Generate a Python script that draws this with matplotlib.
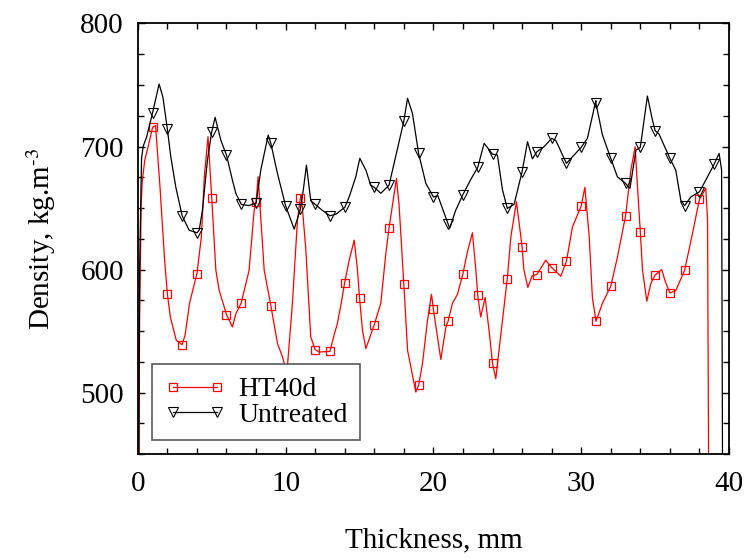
import numpy as np
import matplotlib
matplotlib.use("Agg")
import matplotlib.pyplot as plt
from matplotlib.ticker import MultipleLocator

plt.rcParams['font.family'] = ['Liberation Serif', 'DejaVu Serif']
plt.rcParams['mathtext.fontset'] = 'stix'

# HT40d density profile (thickness mm, density kg/m3)
ht_x = [0.02, 0.12, 0.23, 0.3, 0.47, 0.7, 1.0, 1.2, 1.5, 1.8, 2.0, 2.2, 2.6, 3.0, 3.2, 3.5,
        4.0, 4.3, 4.5, 4.75, 5.0, 5.28, 5.5, 6.0, 6.4, 6.63, 7.0, 7.53, 7.87, 8.0, 8.14,
        8.55, 9.0, 9.45, 9.79, 10.0, 10.1, 10.46, 10.8, 11.0, 11.06, 11.37, 11.7, 12.0,
        12.27, 13.0, 13.28, 13.5, 13.75, 14.0, 14.3, 14.64, 14.86, 15.0, 15.2, 15.43, 16.0,
        16.44, 16.78, 17.0, 17.5, 17.68, 18.0, 18.25, 18.81, 19.0, 19.26, 19.6, 19.87, 20.0,
        20.28, 20.5, 20.84, 21.0, 21.29, 21.63, 22.0, 22.3, 22.64, 22.87, 23.0, 23.2, 23.5,
        23.77, 24.0, 24.22, 24.56, 25.0, 25.24, 25.62, 26.0, 26.12, 26.39, 26.68, 27.0,
        27.6, 28.0, 28.62, 29.0, 29.41, 30.0, 30.25, 30.54, 30.76, 31.0, 31.44, 32.0,
        32.45, 33.0, 33.36, 33.65, 33.82, 34.0, 34.15, 34.44, 34.71, 35.0, 35.45, 35.7,
        36.0, 36.4, 37.0, 37.53, 38.0, 38.43, 38.55, 38.67]
ht_y = [300, 560, 654, 672, 689, 700, 715.6, 717, 667, 610, 580, 561.5, 542.6, 539, 547, 572.7,
        596.8, 626.6, 675.4, 708, 658.3, 599.5, 583.3, 563.5, 553.4, 564, 573, 599.5, 648,
        654.6, 675.4, 599.5, 570.8, 540, 529, 520, 518, 572.7, 640, 658.3, 661, 615.8,
        545.3, 535, 533, 533.6, 547, 556, 572, 589.5, 607.6, 623.9, 600, 577.3, 550.7,
        535.8, 555.3, 572.7, 613, 634, 674, 652, 588, 534.5, 500.5, 506, 523.6, 558.8, 580,
        567.6, 545, 527, 553, 558.3, 572.7, 580, 596.8, 614.4, 629.9, 600, 579, 561.5, 577.3,
        550, 524, 511.4, 547, 592.7, 626.6, 655.1, 618.5, 600, 585.5, 595, 596,
        607.6, 601.7, 594.6, 606.8, 634.7, 651.6, 666.8, 627, 577, 558, 572.7, 586.5,
        610, 643.4, 680.8, 699.8, 665, 630.7, 599.5, 574.3, 588.7, 595.5, 600, 590,
        581, 583, 599.5, 629.4, 657, 666, 640, 300]

# Untreated density profile
un_x = [0.02, 0.12, 0.25, 0.36, 0.6, 1.0, 1.44, 1.7, 2.0, 2.23, 2.57, 3.0, 3.47, 4.0, 4.15,
        4.37, 4.71, 5.0, 5.23, 5.62, 6.0, 6.4, 6.63, 7.0, 7.5, 8.0, 8.32, 8.82, 9.0, 9.45,
        10.0, 10.58, 11.0, 11.2, 11.41, 11.7, 12.0, 12.5, 13.0, 13.4, 14.0, 14.3, 14.75,
        15.02, 15.43, 15.76, 16.0, 16.44, 17.0, 17.34, 18.0, 18.25, 18.58, 19.0, 19.49,
        20.0, 20.3, 21.0, 21.1, 21.5, 22.0, 22.53, 23.0, 23.43, 24.0, 24.33, 24.67, 25.0,
        25.46, 26.0, 26.37, 26.7, 27.0, 27.5, 28.0, 28.28, 29.0, 29.41, 30.0, 30.42,
        30.99, 31.0, 31.44, 32.0, 32.45, 33.0, 33.3, 33.7, 34.0, 34.48, 34.82, 35.0, 35.27,
        36.0, 36.4, 36.74, 37.0, 37.42, 38.0, 38.43, 39.0, 39.33, 39.5, 39.6]
un_y = [300, 600, 690, 700, 708, 727.5, 750.8, 740, 714, 691.7, 667, 643.7, 632, 629.9, 632,
        648, 689, 712, 723.7, 705, 693, 672.7, 662, 653, 652, 654, 680.8, 709.3, 702.6, 678,
        651.8, 632.9, 649, 665, 684.9, 656, 653, 648, 643.7, 645, 650.5, 659, 675.4,
        690.4, 680.8, 668.6, 666.8, 662, 668.6, 686.3, 720.7, 739.2, 727, 694.4, 670,
        659, 660, 636.9, 633.5, 648, 661, 673.3, 683, 702.6, 693.8, 693.1, 665, 649.7,
        653, 679.5, 703.9, 690, 695.7, 700, 706.6, 705, 686.3, 691.7, 699.3, 706.6,
        737.2, 735, 709.3, 690.4, 675.4, 670, 666, 697, 699.3, 741, 721.5, 713, 710,
        690.4, 680.8, 656.4, 652, 659, 663.2, 672.7, 685.7, 694.4, 681, 300]

x_ht = np.array(ht_x)
x_un = np.array(un_x)
mk_ht = [i for i, v in enumerate(x_ht) if v >= 1 and abs(v - round(v)) < 1e-9]
mk_un = [i for i, v in enumerate(x_un) if v >= 1 and abs(v - round(v)) < 1e-9]

fig = plt.figure(figsize=(7.45, 5.58), dpi=100)
ax = fig.add_axes([0.185, 0.186, 0.7935, 0.772])

ax.plot(x_ht, ht_y, color='red', lw=0.9, marker='s', markevery=mk_ht, ms=6,
        mfc='none', mec='red', mew=0.9, label='HT40d')
ax.plot(x_un, un_y, color='black', lw=0.9, marker='v', markevery=mk_un, ms=6.5,
        mfc='none', mec='black', mew=0.8, label='Untreated')

ax.set_xlim(0, 40)
ax.set_ylim(450, 800)
ax.xaxis.set_major_locator(MultipleLocator(10))
ax.xaxis.set_minor_locator(MultipleLocator(2))
ax.yaxis.set_major_locator(MultipleLocator(100))
ax.yaxis.set_minor_locator(MultipleLocator(25))
ax.tick_params(which='both', direction='in', top=True, right=True, labelsize=21)
ax.tick_params(which='major', length=5, width=1)
ax.tick_params(which='minor', length=4, width=1)
ax.tick_params(axis='x', which='major', pad=12)
ax.tick_params(axis='y', which='major', pad=10)
for s in ax.spines.values():
    s.set_linewidth(1.3)

ax.set_xlabel('Thickness, mm', fontsize=21, labelpad=22)
ax.set_ylabel('Density, kg.m$^{\\text{-}3}$', fontsize=21, labelpad=16)

leg = ax.legend(loc='lower left', bbox_to_anchor=(0.024, 0.0325), borderaxespad=0,
                fancybox=False, edgecolor='0.35', framealpha=1, fontsize=20,
                numpoints=2, handlelength=2.2, handletextpad=0.45, borderpad=0.45,
                labelspacing=0.0)
leg.get_frame().set_linewidth(1.2)

fig.savefig('out.png', dpi=100)
